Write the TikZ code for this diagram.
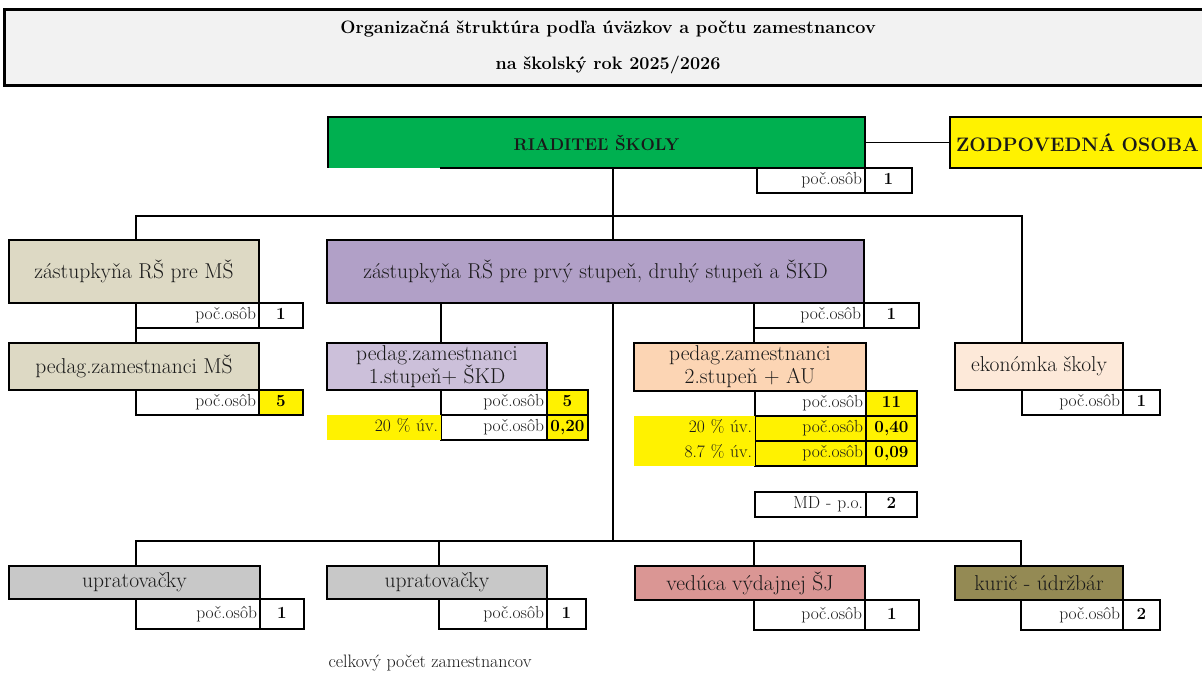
\documentclass[tikz,border=0pt]{standalone}
\usepackage{fontspec}
\usetikzlibrary{positioning}
\definecolor{titlegray}{HTML}{F2F2F2}
\definecolor{headgreen}{HTML}{00B050}
\definecolor{msbeige}{HTML}{DDD9C4}
\definecolor{zpviolet}{HTML}{B1A0C7}
\definecolor{lilac}{HTML}{CCC0DA}
\definecolor{peach}{HTML}{FCD5B4}
\definecolor{palepeach}{HTML}{FDE9D9}
\definecolor{cleangray}{HTML}{C8C8C8}
\definecolor{rose}{HTML}{DA9694}
\definecolor{olive}{HTML}{948A54}

\begin{document}
\begin{tikzpicture}[x=1pt,y=-1pt,font=\fontsize{21.5}{23}\selectfont,node distance=0pt]
  \tikzstyle{unit}=[draw,line width=1.6pt,outer sep=0pt,inner sep=1pt,align=center,text=black!90,anchor=north west]
  \tikzstyle{lbl}=[draw,line width=1.6pt,outer sep=0pt,inner xsep=3pt,inner ysep=0pt,minimum height=25pt,align=right,text=black!90,font=\fontsize{17.5}{19}\selectfont,text height=12pt,text depth=3.5pt]
  \tikzstyle{num}=[draw,line width=1.6pt,outer sep=0pt,inner sep=0pt,minimum height=25pt,font=\bfseries\fontsize{17}{19}\selectfont,text height=12pt,text depth=3.5pt]
  \tikzstyle{hl}=[lbl,draw=none,fill=yellow]
  \tikzstyle{conn}=[line width=1.6pt]
  \useasboundingbox (0,0) rectangle (1202,672);

  \node[draw,line width=3pt,fill=titlegray,minimum width=1208pt,minimum height=76pt,align=center,font=\bfseries\fontsize{18}{20}\selectfont] (title) at (608,47) {Organizačná štruktúra podľa úväzkov a počtu zamestnancov\\[16pt]na školský rok 2025/2026};

  \node[unit,draw=none,fill=headgreen,minimum width=537pt,minimum height=51pt,font=\bfseries\fontsize{17}{19}\selectfont] (dir) at (328,117) {RIADITEĽ ŠKOLY};
  \draw[conn] ([xshift=112pt]dir.south west) -- (dir.south east) |- (dir.north west) -- (dir.south west);
  \node[unit,fill=yellow,minimum width=262pt,minimum height=51pt,text width=250pt,align=left,font=\bfseries\fontsize{19.5}{21}\selectfont] (zod) at (950,117) {ZODPOVEDNÁ OSOBA};
  \node[lbl,text width=102pt,below left=0pt of dir.south east] (dirc) {poč.osôb};
  \node[num,minimum width=47pt,right=of dirc] (dirn) {1};

  \node[unit,fill=msbeige,minimum width=250pt,minimum height=63pt] (zms) at (9,240) {zástupkyňa RŠ pre MŠ};
  \node[lbl,text width=117pt,below left=0pt of zms.south east] (zmsc) {poč.osôb};
  \node[num,minimum width=44pt,right=of zmsc] (zmsn) {1};
  \node[unit,fill=msbeige,minimum width=250pt,minimum height=47pt] (pm) at (9,343) {pedag.zamestnanci MŠ};
  \node[lbl,text width=117pt,below left=0pt of pm.south east] (pmc) {poč.osôb};
  \node[num,fill=yellow,minimum width=44pt,right=of pmc] (pmn) {5};

  \node[unit,fill=zpviolet,minimum width=537pt,minimum height=63pt] (zp) at (327,240) {zástupkyňa RŠ pre prvý stupeň, druhý stupeň a ŠKD};
  \node[lbl,text width=104pt,below left=0pt of zp.south east] (zpc) {poč.osôb};
  \node[num,minimum width=55pt,right=of zpc] (zpn) {1};

  \node[unit,fill=lilac,minimum width=220pt,minimum height=47pt] (p1) at (327,343) {pedag.zamestnanci\\1.stupeň+ ŠKD};
  \node[lbl,text width=100pt,below left=0pt of p1.south east] (p1c) {poč.osôb};
  \node[num,fill=yellow,minimum width=41pt,right=of p1c] (p1n) {5};
  \node[lbl,text width=100pt,below=of p1c] (p1d) {poč.osôb};
  \node[num,fill=yellow,minimum width=41pt,right=of p1d] (p1dn) {0,20};
  \node[hl,text width=108pt,left=of p1d] (p1h) {20 \% úv.};

  \node[unit,fill=peach,minimum width=232pt,minimum height=48pt] (p2) at (634,343) {pedag.zamestnanci\\2.stupeň + AU};
  \node[lbl,text width=105pt,below left=0pt of p2.south east] (p2c) {poč.osôb};
  \node[num,fill=yellow,minimum width=51pt,right=of p2c] (p2n) {11};
  \node[lbl,fill=yellow,text width=105pt,below=of p2c] (p2d) {poč.osôb};
  \node[num,fill=yellow,minimum width=51pt,right=of p2d] (p2dn) {0,40};
  \node[lbl,fill=yellow,text width=105pt,below=of p2d] (p2e) {poč.osôb};
  \node[num,fill=yellow,minimum width=51pt,right=of p2e] (p2en) {0,09};
  \node[hl,text width=115pt,left=of p2d] (p2h) {20 \% úv.};
  \node[hl,text width=115pt,left=of p2e] (p2i) {8.7 \% úv.};
  \node[lbl,text width=105pt,below=26pt of p2e] (md) {MD - p.o.};
  \node[num,minimum width=51pt,right=of md] (mdn) {2};

  \node[unit,fill=palepeach,minimum width=168pt,minimum height=47pt] (ek) at (955,343) {ekonómka školy};
  \node[lbl,text width=95pt,below left=0pt of ek.south east] (ekc) {poč.osôb};
  \node[num,minimum width=37pt,right=of ekc] (ekn) {1};

  \node[unit,fill=cleangray,minimum width=251pt,minimum height=33pt] (u1) at (9,566) {upratovačky};
  \node[lbl,minimum height=30pt,text width=118pt,below left=0pt of u1.south east] (u1c) {poč.osôb};
  \node[num,minimum height=30pt,minimum width=44pt,right=of u1c] (u1n) {1};
  \node[unit,fill=cleangray,minimum width=220pt,minimum height=33pt] (u2) at (327,566) {upratovačky};
  \node[lbl,minimum height=30pt,text width=102pt,below left=0pt of u2.south east] (u2c) {poč.osôb};
  \node[num,minimum height=30pt,minimum width=39pt,right=of u2c] (u2n) {1};
  \node[unit,fill=rose,minimum width=230pt,minimum height=34pt] (vj) at (635,566) {vedúca výdajnej ŠJ};
  \node[lbl,minimum height=30pt,text width=105pt,below left=0pt of vj.south east] (vjc) {poč.osôb};
  \node[num,minimum height=30pt,minimum width=54pt,right=of vjc] (vjn) {1};
  \node[unit,fill=olive,minimum width=168pt,minimum height=34pt] (ku) at (955,566) {kurič - údržbár};
  \node[lbl,minimum height=30pt,text width=96pt,below left=0pt of ku.south east] (kuc) {poč.osôb};
  \node[num,minimum height=30pt,minimum width=37pt,right=of kuc] (kun) {2};

  \node[text=black!90,font=\fontsize{18}{20}\selectfont] (total) at (430,663) {celkový počet zamestnancov};

  \coordinate (bus1) at (613,216);
  \coordinate (bus2) at (613,541);
  \draw[conn] (dir) -- (zod);
  \draw[conn] (dir.south -| bus1) -- (zp.north -| bus1);
  \draw[conn] (zmsc.west |- zms.north) |- (bus1) -| (ekc.west |- ek.north);
  \draw[conn] (zmsc.south west) -- (zmsc.west |- pm.north);
  \draw[conn] (p1c.west |- zp.south) -- (p1c.west |- p1.north);
  \draw[conn] (zpc.south west) -- (zpc.west |- p2.north);
  \draw[conn] (zp.south -| bus2) -- (bus2);
  \draw[conn] (u1c.west |- u1.north) |- (bus2) -| (kuc.west |- ku.north);
  \draw[conn] (u2c.west |- bus2) -- (u2c.west |- u2.north);
  \draw[conn] (vjc.west |- bus2) -- (vjc.west |- vj.north);
\end{tikzpicture}
\end{document}
